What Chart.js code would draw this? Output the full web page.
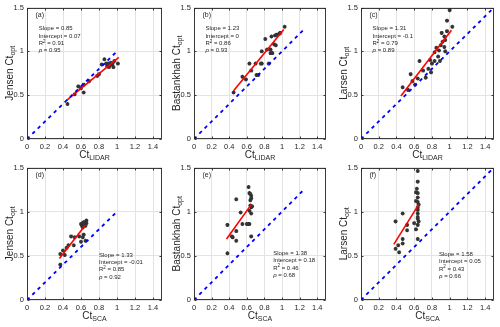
<!DOCTYPE html>
<html><head><meta charset="utf-8">
<script src="https://cdn.jsdelivr.net/npm/chart.js@4.4.1/dist/chart.umd.min.js"></script>
<style>
html,body{margin:0;padding:0;background:#fff;}
#wrap{position:relative;width:500px;height:327px;overflow:hidden;background:#fff;}
canvas{position:absolute;}
</style></head><body><div id="wrap"></div>
<script>
// ---- tick labels ----
const xTicks = [0, 0.2, 0.4, 0.6, 0.8, 1, 1.2, 1.4];
const yTicks = [0, 0.5, 1, 1.5];

// ---- panel (a) Jensen vs Ct_LIDAR ----
const aX = [0.45,0.53,0.57,0.60,0.63,0.63,0.69,0.78,0.80,0.83,0.86,0.88,0.90,0.91,0.93,0.94,0.96,0.97,0.92,1.01,0.89,0.95];
const aY = [0.40,0.51,0.60,0.58,0.53,0.62,0.66,0.72,0.74,0.85,0.91,0.86,0.86,0.82,0.87,0.85,0.82,0.89,0.84,0.86,0.83,0.86];
// ---- panel (b) Bastankhah vs Ct_LIDAR ----
const bX = [0.45,0.55,0.59,0.63,0.65,0.70,0.71,0.73,0.76,0.77,0.77,0.81,0.83,0.85,0.87,0.87,0.89,0.88,0.91,0.93,0.92,0.94,0.97,0.98,1.03];
const bY = [0.53,0.71,0.68,0.86,0.78,0.86,0.73,0.73,0.86,0.86,1.00,1.14,1.02,0.86,1.02,0.98,0.98,1.17,1.08,1.07,1.18,1.19,1.20,1.21,1.28];
// ---- panel (c) Larsen vs Ct_LIDAR ----
const cX = [0.47,0.53,0.56,0.58,0.61,0.64,0.66,0.70,0.73,0.76,0.78,0.79,0.80,0.83,0.83,0.85,0.87,0.88,0.89,0.90,0.91,0.92,0.94,0.94,0.95,0.95,0.97,0.97,1.00,1.03];
const cY = [0.59,0.56,0.74,0.66,0.62,0.69,0.89,0.78,0.70,0.80,0.90,0.76,0.86,0.89,0.99,1.04,0.94,1.01,0.89,1.07,1.21,1.11,1.05,1.17,1.13,1.00,1.23,1.35,1.47,1.28];
// ---- panel (d) Jensen vs Ct_SCA ----
const dX = [0.37,0.37,0.40,0.42,0.44,0.46,0.49,0.52,0.53,0.58,0.60,0.62,0.63,0.65,0.60,0.61,0.62,0.63,0.64,0.64,0.65,0.66,0.66,0.63,0.62];
const dY = [0.40,0.52,0.56,0.51,0.59,0.62,0.72,0.62,0.71,0.72,0.66,0.71,0.74,0.67,0.86,0.84,0.87,0.85,0.88,0.86,0.84,0.87,0.90,0.88,0.82];
// ---- panel (e) Bastankhah vs Ct_SCA ----
const eX = [0.38,0.38,0.43,0.44,0.48,0.48,0.48,0.53,0.55,0.60,0.62,0.62,0.63,0.63,0.64,0.65,0.65,0.64,0.65,0.64,0.65,0.65,0.63,0.66];
const eY = [0.53,0.85,0.72,0.71,0.67,0.78,1.14,0.99,0.86,0.86,0.86,1.28,1.01,1.21,1.20,1.18,1.15,1.13,1.05,1.07,0.98,0.72,0.86,1.06];
// ---- panel (f) Larsen vs Ct_SCA ----
const fX = [0.39,0.39,0.42,0.43,0.47,0.47,0.47,0.52,0.52,0.60,0.62,0.62,0.62,0.63,0.64,0.64,0.64,0.64,0.64,0.64,0.64,0.64,0.64,0.64,0.65,0.64,0.64,0.65];
const fY = [0.58,0.89,0.62,0.54,0.64,0.69,0.98,0.79,0.85,0.87,0.80,1.12,1.22,1.26,1.46,1.34,1.21,1.16,1.11,1.05,1.02,0.98,0.94,0.92,0.89,0.85,0.69,1.08];

// ---- regression line end points ----
const fitX = [[0.44,1.02],[0.45,1.02],[0.45,1.02],[0.36,0.65],[0.37,0.65],[0.37,0.65]];
const fitY = [[0.44,0.93],[0.55,1.25],[0.49,1.24],[0.47,0.85],[0.69,1.08],[0.63,1.08]];
// ---- 1:1 line end ----
const oneEnd = [1.01, 1.25, 1.47, 0.98, 1.25, 1.47];

// ---- labels and statistics ----
const panelLabels = ['(a)','(b)','(c)','(d)','(e)','(f)'];
const modelNames = ['Jensen','Bastankhah','Larsen','Jensen','Bastankhah','Larsen'];
const xSubs = ['LIDAR','LIDAR','LIDAR','SCA','SCA','SCA'];
const slopes = ['0.85','1.23','1.31','1.33','1.38','1.58'];
const intercepts = ['0.07','0','-0.1','-0.01','0.18','0.05'];
const r2s = ['0.91','0.86','0.79','0.85','0.46','0.43'];
const rhos = ['0.95','0.93','0.89','0.92','0.68','0.66'];
const statsAt = [[0.13,1.26],[0.13,1.26],[0.13,1.26],[0.80,0.51],[0.90,0.53],[0.88,0.52]];

const xsAll = [aX,bX,cX,dX,eX,fX];
const ysAll = [aY,bY,cY,dY,eY,fY];

// ---- layout (positions only) ----
const cols = [{L:0,W:166,yW:27},{L:166,W:164,yW:28},{L:332,W:166,yW:29}];
const rows = [{T:0,H:163,pt:7,xH:24},{T:160,H:167,pt:7,xH:27}];
const FONT = "'Liberation Sans', Arial, Helvetica, sans-serif";
const TXT = '#262626';
Chart.defaults.font.family = FONT;

function fmt(v){ return String(+Number(v).toFixed(2)); }

const decor = {
  id:'decor',
  afterDraw(chart){
    const o = chart.options.plugins.decor;
    const {ctx, chartArea:a, scales:{x,y}} = chart;
    ctx.save();
    // box
    ctx.strokeStyle = 'rgba(38,38,38,0.9)';
    ctx.lineWidth = 1;
    const L = Math.round(a.left)+0.5, R = Math.round(a.right)-0.5, T = Math.round(a.top)+0.5, B = Math.round(a.bottom)-0.5;
    ctx.strokeRect(L, T, R-L, B-T);
    // inner tick marks
    ctx.beginPath();
    x.ticks.forEach(t=>{ const px = Math.round(x.getPixelForValue(t.value))+0.5;
      ctx.moveTo(px,B); ctx.lineTo(px,B-2); ctx.moveTo(px,T); ctx.lineTo(px,T+2); });
    y.ticks.forEach(t=>{ const py = Math.round(y.getPixelForValue(t.value))+0.5;
      ctx.moveTo(L,py); ctx.lineTo(L+2,py); ctx.moveTo(R,py); ctx.lineTo(R-2,py); });
    ctx.stroke();
    ctx.fillStyle = TXT;
    ctx.textBaseline = 'middle';
    ctx.textAlign = 'left';
    // panel label
    ctx.font = '7px ' + FONT;
    ctx.fillText(o.label, a.left+8.5, a.top+8);
    // stats
    const sx = x.getPixelForValue(o.sx), sy = y.getPixelForValue(o.sy);
    const lh = 7.4;
    ctx.font = '6px ' + FONT;
    ctx.fillText('Slope = ' + o.slope, sx, sy);
    ctx.fillText('Intercept = ' + o.icpt, sx, sy+lh);
    let cx = sx;
    ctx.fillText('R', cx, sy+2*lh); cx += ctx.measureText('R').width;
    ctx.font = '4.5px ' + FONT; ctx.fillText('2', cx, sy+2*lh-2); cx += ctx.measureText('2').width;
    ctx.font = '6px ' + FONT; ctx.fillText(' = ' + o.r2, cx, sy+2*lh);
    ctx.font = 'italic 6px ' + FONT;
    ctx.fillText('\u03C1', sx, sy+3*lh);
    const rw = ctx.measureText('\u03C1').width;
    ctx.font = '6px ' + FONT;
    ctx.fillText(' = ' + o.rho, sx+rw, sy+3*lh);
    // x title
    const mainF = '10px ' + FONT, subF = '7px ' + FONT;
    ctx.font = mainF; const w1 = ctx.measureText('Ct').width;
    ctx.font = subF; const w2 = ctx.measureText(o.xsub).width;
    let xx = (a.left+a.right)/2 - (w1+w2)/2, xy = a.bottom + 16;
    ctx.font = mainF; ctx.fillText('Ct', xx, xy);
    ctx.font = subF; ctx.fillText(o.xsub, xx+w1, xy+3);
    // y title
    const ymain = o.model + ' Ct';
    ctx.font = mainF; const v1 = ctx.measureText(ymain).width;
    ctx.font = subF; const v2 = ctx.measureText('opt').width;
    ctx.translate(a.left - 17, (a.top+a.bottom)/2);
    ctx.rotate(-Math.PI/2);
    ctx.font = mainF; ctx.fillText(ymain, -(v1+v2)/2, 0);
    ctx.font = subF; ctx.fillText('opt', -(v1+v2)/2 + v1, 3);
    ctx.restore();
  }
};

const wrap = document.getElementById('wrap');
for (let i = 0; i < 6; i++) {
  const c = cols[i % 3], r = rows[Math.floor(i / 3)];
  const cv = document.createElement('canvas');
  cv.width = c.W; cv.height = r.H;
  cv.style.left = c.L + 'px'; cv.style.top = r.T + 'px';
  cv.style.width = c.W + 'px'; cv.style.height = r.H + 'px';
  wrap.appendChild(cv);
  const xs = xsAll[i], ys = ysAll[i];
  new Chart(cv.getContext('2d'), {
    type: 'scatter',
    data: {
      datasets: [
        { data: xs.map((v,k)=>({x:v, y:ys[k]})), pointStyle:'star', pointRadius:2, pointHoverRadius:2,
          borderColor:'#333333', backgroundColor:'#333333', pointBorderWidth:1.1, order:3 },
        { data: [{x:fitX[i][0], y:fitY[i][0]}, {x:fitX[i][1], y:fitY[i][1]}], showLine:true, pointRadius:0,
          borderColor:'#ff0000', borderWidth:1.6, order:2 },
        { data: [{x:0, y:0}, {x:oneEnd[i], y:oneEnd[i]}], showLine:true, pointRadius:0,
          borderColor:'#0000ff', borderWidth:1.8, borderDash:[3.5,4], order:1 }
      ]
    },
    options: {
      responsive:false, animation:false, devicePixelRatio:1,
      layout:{ padding:{ left:0, top:r.pt, right:4, bottom:0 } },
      plugins:{ legend:{display:false}, tooltip:{enabled:false},
        decor:{ label:panelLabels[i], model:modelNames[i], xsub:xSubs[i], slope:slopes[i], icpt:intercepts[i],
                r2:r2s[i], rho:rhos[i], sx:statsAt[i][0], sy:statsAt[i][1] } },
      scales:{
        x:{ type:'linear', min:0, max:1.5,
            afterBuildTicks: s=>{ s.ticks = xTicks.map(v=>({value:v})); },
            afterFit: s=>{ s.height = r.xH; },
            grid:{ color:'#e3e3e3', lineWidth:1, drawTicks:false },
            border:{ display:false },
            ticks:{ padding:3, maxRotation:0, autoSkip:false, color:TXT, font:{size:7.5}, callback:v=>fmt(v) } },
        y:{ type:'linear', min:0, max:1.5,
            afterBuildTicks: s=>{ s.ticks = yTicks.map(v=>({value:v})); },
            afterFit: s=>{ s.width = c.yW; },
            grid:{ color:'#e3e3e3', lineWidth:1, drawTicks:false },
            border:{ display:false },
            ticks:{ padding:3, autoSkip:false, color:TXT, font:{size:7.5}, callback:v=>fmt(v) } }
      }
    },
    plugins:[decor]
  });
}
</script></body></html>
